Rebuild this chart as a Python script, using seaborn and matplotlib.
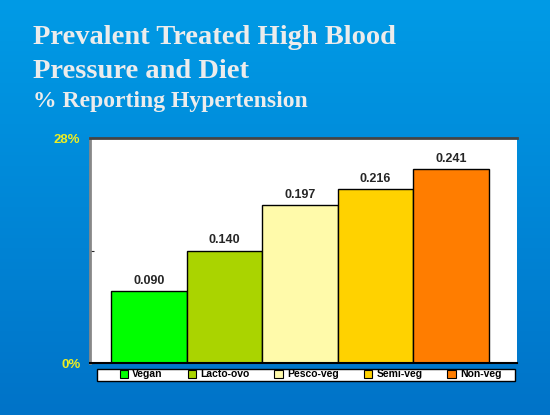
import matplotlib
matplotlib.use('Agg')
import matplotlib.pyplot as plt
import seaborn as sns
import numpy as np
import pandas as pd
from matplotlib.patches import Patch, Rectangle

diets = ['Vegan', 'Lacto-ovo', 'Pesco-veg', 'Semi-veg', 'Non-veg']
prevalence = [0.090, 0.140, 0.197, 0.216, 0.241]
bar_colors = ['#00ff00', '#aad400', '#fffaaa', '#ffd200', '#ff7d00']
ytick_vals = [0, 0.14, 0.28]
ytick_text = ['0%', '', '28%']

df = pd.DataFrame({'diet': diets, 'prevalence': prevalence})

sns.set_style('white')
plt.rcParams['font.family'] = ['Liberation Sans', 'DejaVu Sans']

fig = plt.figure(figsize=(5.5, 4.15), dpi=100)

# blue gradient background
bg = fig.add_axes([0, 0, 1, 1], zorder=-10)
grad = np.linspace(0, 1, 256).reshape(-1, 1)
cmap = matplotlib.colors.LinearSegmentedColormap.from_list('bg', ['#009be6', '#0073c8'])
bg.imshow(grad, aspect='auto', cmap=cmap, extent=[0, 1, 0, 1])
bg.axis('off')

# titles
serif = ['Liberation Serif', 'DejaVu Serif']
fig.text(0.06, 0.91, 'Prevalent Treated High Blood', color='#ececec', fontsize=20.5,
         family=serif, fontweight='bold', va='center')
fig.text(0.06, 0.828, 'Pressure and Diet', color='#ececec', fontsize=20.5,
         family=serif, fontweight='bold', va='center')
fig.text(0.06, 0.755, '% Reporting Hypertension', color='#ececec', fontsize=17,
         family=serif, fontweight='bold', va='center')

ax = fig.add_axes([90/550, 1-363/415, 427/550, 225/415])
ax.set_facecolor('white')
sns.barplot(data=df, x='diet', y='prevalence', hue='diet', palette=bar_colors,
            saturation=1, width=1.0, edgecolor='black', linewidth=1, legend=False, ax=ax)
for c in ax.containers:
    ax.bar_label(c, fmt='%.3f', fontsize=9, fontweight='bold', padding=3)

ax.set_xlim(-0.78, 4.87)
ax.set_ylim(0, 0.28)
ax.set_yticks(ytick_vals)
ax.set_yticklabels(ytick_text, color='#eeee22', fontweight='bold', fontsize=9.5)
ax.tick_params(axis='y', direction='in', length=3, left=True, pad=7)
ax.set_xticks([])
ax.set_xlabel('')
ax.set_ylabel('')
ax.spines['left'].set_color('#888888')
ax.spines['left'].set_linewidth(2)
ax.spines['bottom'].set_color('black')
ax.spines['bottom'].set_linewidth(1.5)
ax.spines['top'].set_color('#444444')
ax.spines['top'].set_linewidth(2)
ax.spines['right'].set_visible(False)

# legend box (frame drawn separately to keep the blank lead-in at the left)
fig.patches.append(Rectangle((97/550, 1-381/415), 418/550, 12/415, transform=fig.transFigure,
                             facecolor='white', edgecolor='black', linewidth=1, zorder=0.5))
handles = [Patch(facecolor=c, edgecolor='black', linewidth=0.8) for c in bar_colors]
leg = fig.legend(handles, diets, ncol=5, mode='expand',
                 bbox_to_anchor=(118/550, 1-381/415, 385/550, 12/415), loc='lower left',
                 prop={'size': 7.5, 'weight': 'bold'}, handlelength=0.8, handleheight=0.9,
                 handletextpad=0.4, borderpad=0.15, borderaxespad=0, frameon=False,
                 labelcolor='black')
leg.set_zorder(5)

fig.savefig('out.png', dpi=100)
